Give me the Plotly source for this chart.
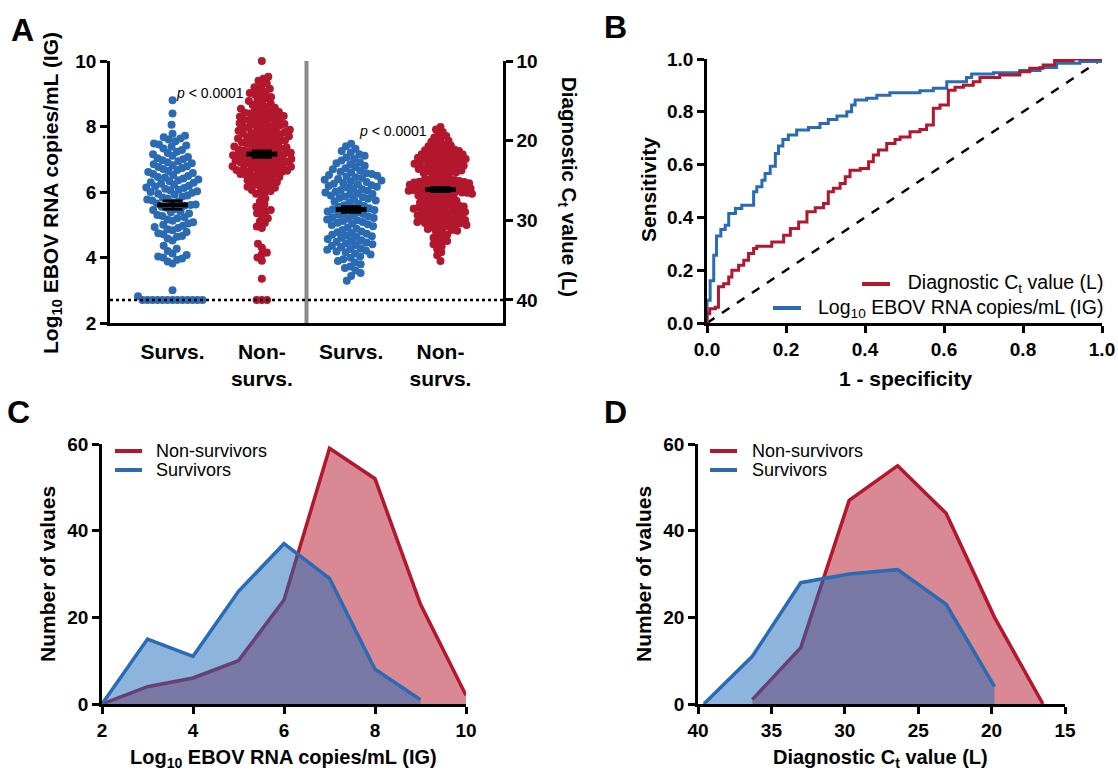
import numpy as np
import plotly.graph_objects as go

W, H = 1118, 772
FONT = "Liberation Sans"
BLUE = "#2A6BB3"
RED = "#B3172E"

# ---------------- data ----------------
group_labels = ["Survs.", "Non-<br>survs.", "Survs.", "Non-<br>survs."]
group_pos = [0, 1, 2, 3]

surv_log = [2.7, 2.7, 2.7, 2.7, 2.7, 2.7, 2.7, 2.7, 2.7, 2.7, 2.7, 2.7, 2.7, 2.82, 3.0,
            3.82, 3.88, 3.93, 3.97, 4.0, 4.03, 4.08, 4.12, 4.2, 4.27, 4.36,
            4.52, 4.58, 4.63, 4.66, 4.71, 4.74, 4.78, 4.83, 4.86, 4.9, 4.93, 4.97, 5.0,
            5.04, 5.08, 5.12, 5.16, 5.2, 5.23, 5.27, 5.3, 5.34, 5.38, 5.41, 5.45, 5.48,
            5.52, 5.55, 5.58, 5.6, 5.62, 5.65, 5.68, 5.71, 5.74, 5.77, 5.8, 5.83, 5.86,
            5.89, 5.92, 5.95, 5.98, 6.0, 6.02, 6.05, 6.07, 6.1, 6.12, 6.14, 6.17, 6.19,
            6.22, 6.25, 6.28, 6.3, 6.33, 6.36, 6.38, 6.41, 6.44, 6.46, 6.49,
            6.52, 6.55, 6.58, 6.61, 6.64, 6.67, 6.7, 6.73, 6.76, 6.79, 6.82, 6.85, 6.88,
            6.91, 6.94, 6.97, 7.0, 7.03, 7.07, 7.11, 7.15, 7.19, 7.23, 7.28, 7.33, 7.38,
            7.42, 7.45, 7.48,
            7.55, 7.6, 7.63, 7.67, 7.72, 7.78, 8.05, 8.4, 8.8]

nonsurv_log = [2.7, 2.7, 2.7, 3.35,
               3.9, 4.0, 4.1, 4.15, 4.3, 4.42,
               4.9, 4.95, 5.05, 5.1, 5.2, 5.28, 5.35, 5.4, 5.45, 5.48,
               5.55, 5.62, 5.7, 5.8, 5.9, 5.95, 6.0, 6.03, 6.06, 6.1, 6.13, 6.16, 6.19,
               6.22, 6.25, 6.28, 6.3, 6.33, 6.36, 6.39, 6.42, 6.44, 6.46, 6.48,
               6.51, 6.53, 6.55, 6.57, 6.58, 6.6, 6.62, 6.64, 6.65, 6.67, 6.69, 6.7, 6.72,
               6.74, 6.75, 6.77, 6.79, 6.8, 6.82, 6.84, 6.85, 6.87, 6.88, 6.9, 6.92, 6.93,
               6.95, 6.96, 6.98, 7.0, 7.01, 7.03, 7.04, 7.06, 7.08, 7.09, 7.11, 7.12, 7.14,
               7.16, 7.17, 7.19, 7.2, 7.22, 7.24, 7.25, 7.27, 7.29, 7.3, 7.32, 7.34, 7.35,
               7.37, 7.39, 7.41, 7.43, 7.45, 7.47, 7.49,
               7.51, 7.53, 7.55, 7.56, 7.58, 7.6, 7.62, 7.63, 7.65, 7.67, 7.69, 7.7, 7.72,
               7.74, 7.76, 7.78, 7.8, 7.81, 7.83, 7.85, 7.87, 7.89, 7.9, 7.92, 7.94, 7.96,
               7.98, 8.0, 8.02, 8.04, 8.06, 8.08, 8.1, 8.12, 8.14, 8.16, 8.18, 8.2, 8.22,
               8.24, 8.26, 8.28, 8.3, 8.32, 8.34, 8.36, 8.38, 8.4, 8.42, 8.44, 8.46, 8.48,
               8.51, 8.54, 8.57, 8.6, 8.63, 8.66, 8.7, 8.74, 8.78, 8.82, 8.86, 8.9, 8.94,
               8.98, 9.02, 9.06, 9.1, 9.15, 9.2, 9.26, 9.32, 9.4, 9.46,
               9.52, 10.0]

surv_ct = [34.7, 34.9, 35.1, 35.3, 35.5, 35.8, 36.0, 36.3, 36.6, 37.0, 37.6,
           31.4, 31.5, 31.6, 31.7, 31.8, 31.9, 32.0, 32.1, 32.2, 32.35, 32.5, 32.6, 32.7,
           32.8, 32.9, 33.0, 33.1, 33.2, 33.35, 33.5, 33.6, 33.7, 33.8, 33.9, 34.0, 34.15,
           34.3, 34.5,
           28.1, 28.2, 28.3, 28.4, 28.5, 28.6, 28.7, 28.8, 28.9, 29.0, 29.1, 29.2, 29.3,
           29.4, 29.5, 29.6, 29.7, 29.8, 29.9, 30.0, 30.1, 30.2, 30.3, 30.4, 30.5, 30.6,
           30.75, 30.9, 31.05, 31.2,
           24.8, 24.9, 25.0, 25.1, 25.2, 25.3, 25.4, 25.5, 25.6, 25.7, 25.8, 25.9, 26.0,
           26.1, 26.2, 26.3, 26.4, 26.5, 26.6, 26.7, 26.8, 26.9, 27.0, 27.1, 27.2, 27.3,
           27.4, 27.5, 27.65, 27.8, 27.95,
           21.5, 21.7, 21.9, 22.1, 22.3, 22.5, 22.7, 22.85, 23.0, 23.15, 23.3, 23.45, 23.6,
           23.75, 23.9, 24.0, 24.1, 24.2, 24.3, 24.4, 24.5, 24.6, 24.7,
           20.4, 20.7, 21.0, 21.3]

nonsurv_ct = [35.1,
              31.4, 31.6, 31.8, 32.0, 32.2, 32.4, 32.6, 32.8, 33.0, 33.3, 33.6, 34.0, 34.4,
              28.1, 28.15, 28.2, 28.25, 28.3, 28.35, 28.4, 28.5, 28.55, 28.6, 28.7, 28.75,
              28.8, 28.9, 28.95, 29.0, 29.1, 29.15, 29.2, 29.3, 29.35, 29.4, 29.5, 29.55,
              29.6, 29.7, 29.75, 29.8, 29.9, 29.95, 30.0, 30.1, 30.15, 30.2, 30.3, 30.35,
              30.4, 30.5, 30.55, 30.6, 30.7, 30.8, 30.9, 31.0, 31.1, 31.2, 31.3,
              24.8, 24.85, 24.9, 24.95, 25.0, 25.05, 25.1, 25.15, 25.2, 25.25, 25.3, 25.35,
              25.4, 25.45, 25.5, 25.55, 25.6, 25.65, 25.7, 25.75, 25.8, 25.85, 25.9, 25.95,
              26.0, 26.05, 26.1, 26.15, 26.2, 26.25, 26.3, 26.35, 26.4, 26.45, 26.5, 26.55,
              26.6, 26.65, 26.7, 26.75, 26.8, 26.9, 27.0, 27.1, 27.2, 27.3, 27.4, 27.5,
              27.55, 27.6, 27.7, 27.75, 27.8, 27.9, 28.0,
              21.5, 21.55, 21.6, 21.7, 21.75, 21.8, 21.9, 21.95, 22.0, 22.1, 22.15, 22.2,
              22.3, 22.35, 22.4, 22.5, 22.55, 22.6, 22.7, 22.75, 22.8, 22.9, 22.95, 23.0,
              23.1, 23.15, 23.2, 23.3, 23.35, 23.4, 23.5, 23.55, 23.6, 23.7, 23.75, 23.8,
              23.9, 23.95, 24.0, 24.1, 24.2, 24.3, 24.45, 24.6,
              18.3, 18.6, 18.9, 19.2, 19.4, 19.6, 19.8, 20.0, 20.15, 20.3, 20.45, 20.6,
              20.7, 20.8, 20.9, 21.0, 21.1, 21.2, 21.3, 21.4]

lod_log = 2.7  # limit of detection line (equivalent to Ct 40)

# ROC curves (1 - specificity, sensitivity), step corners
roc_ig_fpr = [0.0, 0.0, 0.008, 0.017, 0.024, 0.035, 0.046, 0.055, 0.072, 0.088, 0.118,
              0.126, 0.139, 0.147, 0.16, 0.173, 0.181, 0.192, 0.206, 0.227, 0.257, 0.286,
              0.307, 0.329, 0.354, 0.366, 0.375, 0.404, 0.43, 0.463, 0.539, 0.573, 0.607,
              0.657, 0.67, 0.725, 0.792, 0.843, 0.885, 0.944, 1.0]
roc_ig_sens = [0.0, 0.086, 0.16, 0.257, 0.33, 0.354, 0.37, 0.415, 0.434, 0.446, 0.497,
               0.516, 0.541, 0.566, 0.594, 0.642, 0.67, 0.695, 0.712, 0.731, 0.741, 0.756,
               0.771, 0.784, 0.8, 0.826, 0.845, 0.851, 0.863, 0.872, 0.88, 0.889, 0.914,
               0.93, 0.943, 0.948, 0.956, 0.968, 0.984, 0.991, 1.0]
roc_ct_fpr = [0.0, 0.0, 0.007, 0.021, 0.029, 0.042, 0.055, 0.063, 0.08, 0.093, 0.105,
              0.118, 0.126, 0.164, 0.194, 0.211, 0.232, 0.253, 0.274, 0.295, 0.307, 0.32,
              0.337, 0.35, 0.362, 0.388, 0.409, 0.421, 0.434, 0.455, 0.476, 0.489, 0.514,
              0.539, 0.556, 0.573, 0.59, 0.611, 0.628, 0.649, 0.674, 0.691, 0.741, 0.792,
              0.817, 0.851, 0.88, 0.927, 1.0]
roc_ct_sens = [0.0, 0.035, 0.054, 0.06, 0.137, 0.149, 0.174, 0.2, 0.219, 0.238, 0.263,
               0.282, 0.291, 0.307, 0.332, 0.358, 0.383, 0.421, 0.437, 0.453, 0.497, 0.51,
               0.528, 0.554, 0.579, 0.585, 0.611, 0.636, 0.655, 0.68, 0.695, 0.705, 0.724,
               0.733, 0.75, 0.813, 0.826, 0.882, 0.893, 0.901, 0.914, 0.93, 0.939, 0.952,
               0.965, 0.977, 0.994, 1.0, 1.0]

# Frequency distributions
hist_log_ns_x = [2, 3, 4, 5, 6, 7, 8, 9, 10]
hist_log_ns_n = [0, 4, 6, 10, 24, 59, 52, 23, 2]
hist_log_s_x = [2, 3, 4, 5, 6, 7, 8, 9]
hist_log_s_n = [0, 15, 11, 26, 37, 29, 8, 1]

hist_ct_ns_x = [36.3, 33.0, 29.7, 26.4, 23.1, 19.8, 16.5]
hist_ct_ns_n = [1, 13, 47, 55, 44, 20, 0]
hist_ct_s_x = [39.6, 36.3, 33.0, 29.7, 26.4, 23.1, 19.8]
hist_ct_s_n = [0, 11, 28, 30, 31, 23, 4]

# ---------------- geometry helpers ----------------
def px(x):
    return x / W

def py(y):
    return 1 - y / H

A_X = (110, 503)
A_Y = (61, 323)
A_XRANGE = [-0.7, 3.7]
A_YRANGE = [2, 10]
A_Y2RANGE = [42.89, 10]
B_X = (707, 1102)
B_Y = (59, 323)
C_X = (102, 466)
C_Y = (444, 704)
D_X = (698, 1065)
D_Y = (444, 704)

ppu_x = (A_X[1] - A_X[0]) / (A_XRANGE[1] - A_XRANGE[0])
ppu_log = (A_Y[1] - A_Y[0]) / (A_YRANGE[1] - A_YRANGE[0])
ppu_ct = (A_Y[1] - A_Y[0]) / abs(A_Y2RANGE[0] - A_Y2RANGE[1])


def swarm(vals, ppu_y, sx, sy):
    """Beeswarm offsets (in x data units); collision test on an ellipse sx by sy px."""
    vals = np.asarray(vals, dtype=float)
    order = np.argsort(vals, kind="stable")
    placed = []
    offs = np.zeros(len(vals))
    d = sx
    for i in order:
        y = vals[i] * ppu_y * (sx / sy)
        near = [(qx, qy) for qx, qy in placed if abs(qy - y) < d]
        cands = [0.0]
        for qx, qy in near:
            dx = np.sqrt(d * d - (qy - y) ** 2)
            cands += [qx + dx, qx - dx]
        cands.sort(key=lambda c: (abs(c), c))
        for c in cands:
            if all((c - qx) ** 2 + (y - qy) ** 2 >= d * d - 1e-6 for qx, qy in near):
                offs[i] = c
                placed.append((c, y))
                break
    return offs / ppu_x


fig = go.Figure()

# ---------------- panel A ----------------
a_sets = [(surv_log, BLUE, "y", ppu_log, 5.0, 9.0),
          (nonsurv_log, RED, "y", ppu_log, 5.2, 6.0),
          (surv_ct, BLUE, "y2", ppu_ct, 5.4, 8.0),
          (nonsurv_ct, RED, "y2", ppu_ct, 5.0, 5.4)]
for pos, (vals, col, yax, ppu, sx, sy) in zip(group_pos, a_sets):
    xs = pos + swarm(vals, ppu, sx, sy)
    fig.add_trace(go.Scatter(x=xs, y=vals, mode="markers", xaxis="x", yaxis=yax,
                             marker=dict(size=8, color=col, line=dict(width=0)),
                             showlegend=False, cliponaxis=False))
for pos, (vals, col, yax, ppu, sx, sy) in zip(group_pos, a_sets):
    v = np.asarray(vals)
    m = v.mean()
    sem = v.std(ddof=1) / np.sqrt(len(v))
    fig.add_trace(go.Scatter(x=[pos], y=[m], mode="markers", xaxis="x", yaxis=yax,
                             marker=dict(symbol="line-ew", size=22,
                                         line=dict(width=5, color="black")),
                             error_y=dict(type="data", array=[sem], color="black",
                                          thickness=2.5, width=10),
                             showlegend=False))

# ---------------- panel B ----------------
fig.add_trace(go.Scatter(x=[0, 1], y=[0, 1], mode="lines", xaxis="x2", yaxis="y3",
                         line=dict(color="black", width=2.5, dash="dash"),
                         showlegend=False))
fig.add_trace(go.Scatter(x=roc_ig_fpr, y=roc_ig_sens, mode="lines", xaxis="x2", yaxis="y3",
                         line=dict(color=BLUE, width=3, shape="hv"),
                         showlegend=False, cliponaxis=False))
fig.add_trace(go.Scatter(x=roc_ct_fpr, y=roc_ct_sens, mode="lines", xaxis="x2", yaxis="y3",
                         line=dict(color=RED, width=3, shape="hv"),
                         showlegend=False, cliponaxis=False))

# ---------------- panel C ----------------
RED_FILL = "rgba(179,19,39,0.5)"
BLUE_FILL = "rgba(27,105,185,0.5)"
fig.add_trace(go.Scatter(x=hist_log_ns_x, y=hist_log_ns_n, mode="lines", xaxis="x3",
                         yaxis="y4", fill="tozeroy", fillcolor=RED_FILL,
                         line=dict(color=RED, width=3.5), showlegend=False,
                         cliponaxis=False))
fig.add_trace(go.Scatter(x=hist_log_s_x, y=hist_log_s_n, mode="lines", xaxis="x3",
                         yaxis="y4", fill="tozeroy", fillcolor=BLUE_FILL,
                         line=dict(color=BLUE, width=3.5), showlegend=False,
                         cliponaxis=False))

# ---------------- panel D ----------------
fig.add_trace(go.Scatter(x=hist_ct_ns_x, y=hist_ct_ns_n, mode="lines", xaxis="x4",
                         yaxis="y5", fill="tozeroy", fillcolor=RED_FILL,
                         line=dict(color=RED, width=3.5), showlegend=False,
                         cliponaxis=False))
fig.add_trace(go.Scatter(x=hist_ct_s_x, y=hist_ct_s_n, mode="lines", xaxis="x4",
                         yaxis="y5", fill="tozeroy", fillcolor=BLUE_FILL,
                         line=dict(color=BLUE, width=3.5), showlegend=False,
                         cliponaxis=False))

# ---------------- axes ----------------
tickfont = dict(family=FONT, size=19, color="black", weight="bold")
base = dict(showline=True, linecolor="black", linewidth=2.5, ticks="outside",
            ticklen=7, tickwidth=2.5, tickcolor="black", showgrid=False,
            zeroline=False, tickfont=tickfont, fixedrange=True, automargin=False)


def dom(a, b, size):
    return [a / size, b / size]


fig.update_layout(
    width=W, height=H, autosize=False,
    margin=dict(l=0, r=0, t=0, b=0, pad=0, autoexpand=False),
    paper_bgcolor="white", plot_bgcolor="white",
    showlegend=False,
    font=dict(family=FONT, color="black"),
    xaxis=dict(base, domain=dom(*A_X, W), range=A_XRANGE, anchor="y",
               tickvals=group_pos, ticktext=group_labels, ticks="",
               tickfont=dict(family=FONT, size=21, color="black", weight="bold"),
               ticklabelstandoff=8),
    yaxis=dict(base, domain=[py(A_Y[1]), py(A_Y[0])], range=A_YRANGE, anchor="x",
               tickvals=[2, 4, 6, 8, 10]),
    yaxis2=dict(base, range=A_Y2RANGE, overlaying="y", side="right", anchor="x",
                tickvals=[10, 20, 30, 40]),
    xaxis2=dict(base, domain=dom(*B_X, W), range=[0, 1], anchor="y3",
                tickvals=[0, 0.2, 0.4, 0.6, 0.8, 1.0], tickformat=".1f"),
    yaxis3=dict(base, domain=[py(B_Y[1]), py(B_Y[0])], range=[0, 1], anchor="x2",
                tickvals=[0, 0.2, 0.4, 0.6, 0.8, 1.0], tickformat=".1f"),
    xaxis3=dict(base, domain=dom(*C_X, W), range=[2, 10], anchor="y4",
                tickvals=[2, 4, 6, 8, 10]),
    yaxis4=dict(base, domain=[py(C_Y[1]), py(C_Y[0])], range=[0, 60], anchor="x3",
                tickvals=[0, 20, 40, 60]),
    xaxis4=dict(base, domain=dom(*D_X, W), range=[40, 15], anchor="y5",
                tickvals=[40, 35, 30, 25, 20, 15]),
    yaxis5=dict(base, domain=[py(D_Y[1]), py(D_Y[0])], range=[0, 60], anchor="x4",
                tickvals=[0, 20, 40, 60]),
)

# ---------------- shapes ----------------
shapes = [
    dict(type="line", xref="x", yref="y", x0=1.5, x1=1.5, y0=A_YRANGE[0], y1=A_YRANGE[1],
         line=dict(color="#8a8a8a", width=4)),
    dict(type="line", xref="x", yref="y", x0=A_XRANGE[0], x1=A_XRANGE[1], y0=lod_log,
         y1=lod_log, line=dict(color="black", width=2.5, dash="dot")),
]


def legend_line(x0, x1, y, col):
    return dict(type="line", xref="paper", yref="paper", x0=px(x0), x1=px(x1),
                y0=py(y), y1=py(y), line=dict(color=col, width=4))


shapes += [legend_line(862, 890, 284, RED), legend_line(773, 801, 308, BLUE),
           legend_line(115, 142, 451, RED), legend_line(115, 142, 470, BLUE),
           legend_line(710, 737, 451, RED), legend_line(710, 737, 470, BLUE)]
fig.update_layout(shapes=shapes)

# ---------------- annotations ----------------
ann = []


def text(x, y, s, size, angle=0, xanchor="center", bold=True, color="black",
         align="center"):
    ann.append(dict(x=px(x), y=py(y), xref="paper", yref="paper", text=s,
                    showarrow=False, textangle=angle, xanchor=xanchor, yanchor="middle",
                    align=align,
                    font=dict(family=FONT, size=size, color=color,
                              weight="bold" if bold else "normal")))


# panel letters
text(22, 30, "A", 32)
text(616, 27, "B", 32)
text(18, 412, "C", 32)
text(616, 412, "D", 32)

# axis titles
text(52, 193, "Log<sub>10</sub> EBOV RNA copies/mL (IG)", 21, angle=-90)
text(568, 187, "Diagnostic C<sub>t</sub> value (L)", 20.5, angle=90)
text(648, 190, "Sensitivity", 21, angle=-90)
text(905, 378, "1 - specificity", 21)
text(47, 574, "Number of values", 21, angle=-90)
text(283, 758, "Log<sub>10</sub> EBOV RNA copies/mL (IG)", 20)
text(643, 574, "Number of values", 21, angle=-90)
text(880, 758, "Diagnostic C<sub>t</sub> value (L)", 20)

# p-values
text(210, 93, "<i>p</i> < 0.0001", 14, bold=False)
text(393, 131, "<i>p</i> < 0.0001", 14, bold=False)

# legends
text(1105, 296, "Diagnostic C<sub>t</sub> value (L)<br>Log<sub>10</sub> EBOV RNA copies/mL (IG)",
     19.5, xanchor="right", bold=False, align="right")
text(154, 451, "Non-survivors", 18, xanchor="left", bold=False)
text(154, 470, "Survivors", 18, xanchor="left", bold=False)
text(750, 451, "Non-survivors", 18, xanchor="left", bold=False)
text(750, 470, "Survivors", 18, xanchor="left", bold=False)

fig.update_layout(annotations=ann)

fig.write_html("out.html", config={"displayModeBar": False})
